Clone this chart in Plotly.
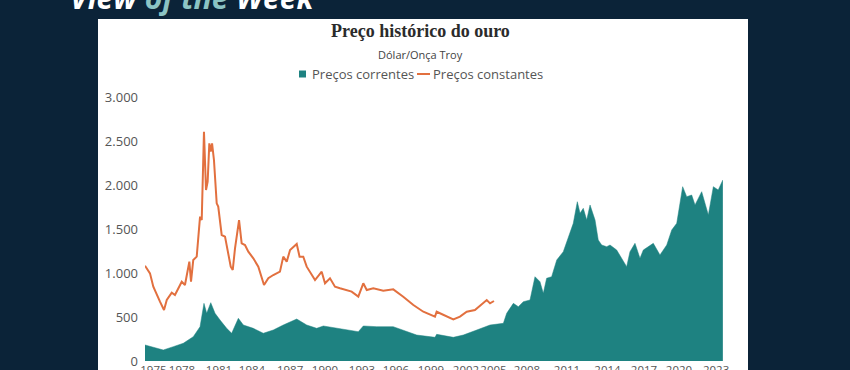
import plotly.graph_objects as go

# ---------------- data ----------------
# Preços correntes (current prices, USD/oz) – position on time axis, value
cur_t = [1975.00, 1975.70, 1976.54, 1977.38, 1978.22, 1979.06, 1979.63, 1979.96,
         1980.19, 1980.53, 1980.89, 1981.31, 1981.87, 1982.29, 1982.85, 1983.27,
         1984.11, 1984.95, 1985.79, 1986.63, 1987.76, 1988.60, 1989.44, 1990.00,
         1991.40, 1992.94, 1993.36, 1994.49, 1995.88, 1996.72, 1997.85, 1999.39,
         1999.53, 2000.93, 2001.77, 2002.90, 2004.02, 2005.14, 2005.42, 2005.98,
         2006.40, 2006.82, 2007.38, 2007.80, 2008.22, 2008.50, 2008.78, 2009.20,
         2009.63, 2010.18, 2010.60, 2011.02, 2011.36, 2011.59, 2011.86, 2012.15,
         2012.43, 2012.85, 2013.12, 2013.41, 2013.83, 2014.11, 2014.67, 2015.09,
         2015.51, 2015.79, 2016.21, 2016.63, 2016.91, 2017.75, 2018.31, 2018.88,
         2019.30, 2019.72, 2020.22, 2020.56, 2020.98, 2021.26, 2021.82, 2022.38,
         2022.80, 2023.21, 2023.60]
cur_v = [182, 155, 125, 163, 201, 276, 390, 655,
         542, 663, 542, 466, 371, 315, 485, 409,
         371, 315, 352, 409, 477, 409, 371, 398,
         371, 333, 398, 390, 390, 352, 295, 269,
         303, 269, 295, 352, 409, 428, 542, 655,
         617, 674, 693, 958, 901, 769, 940, 958,
         1148, 1242, 1394, 1564, 1810, 1678, 1735, 1602,
         1773, 1602, 1375, 1318, 1299, 1318, 1261, 1167,
         1072, 1242, 1337, 1167, 1261, 1337, 1205, 1318,
         1489, 1564, 1981, 1867, 1886, 1773, 1924, 1659,
         1981, 1943, 2057]

# Preços constantes (constant prices, USD/oz)
const_t = [1975.00, 1975.42, 1975.70, 1975.98, 1976.26, 1976.60, 1976.83, 1977.25,
           1977.52, 1978.09, 1978.36, 1978.73, 1978.87, 1979.06, 1979.35, 1979.63,
           1979.77, 1979.96, 1980.13, 1980.27, 1980.41, 1980.53, 1980.64, 1980.80,
           1981.03, 1981.16, 1981.45, 1981.73, 1982.01, 1982.21, 1982.38, 1982.57,
           1982.91, 1983.13, 1983.41, 1983.69, 1984.11, 1984.53, 1985.01, 1985.37,
           1985.79, 1986.35, 1986.63, 1986.92, 1987.20, 1987.76, 1988.00, 1988.31,
           1988.60, 1989.30, 1989.86, 1990.14, 1990.56, 1990.98, 1991.40, 1991.96,
           1992.38, 1992.94, 1993.36, 1993.65, 1994.20, 1995.04, 1995.88, 1996.72,
           1997.57, 1998.41, 1999.39, 1999.53, 2000.09, 2000.93, 2001.49, 2002.06,
           2002.75, 2003.17, 2003.74, 2004.02, 2004.35]
const_v = [1083, 996, 845, 769, 674, 580, 693, 777,
           750, 901, 864, 1129, 901, 1148, 1186, 1640,
           1602, 2606, 1943, 2038, 2473, 2379, 2473, 2284,
           1792, 1754, 1432, 1413, 1224, 1072, 1034, 1280,
           1602, 1337, 1318, 1242, 1167, 1072, 864, 940,
           977, 1015, 1186, 1129, 1261, 1330, 1186, 1186,
           1072, 920, 1015, 883, 940, 845, 826, 807,
           788, 731, 883, 807, 826, 799, 814, 731,
           636, 560, 504, 560, 523, 473, 504, 560,
           580, 625, 693, 655, 682]

# axis labels
x_tick_pos = [1975.71, 1978.11, 1981.22, 1984.00, 1987.20, 1990.14, 1993.25, 1996.11,
              1999.05, 2002.00, 2004.31, 2007.13, 2010.49, 2013.90, 2016.97, 2019.91,
              2023.03]
x_tick_labels = ["1975", "1978", "1981", "1984", "1987", "1990", "1993", "1996",
                 "1999", "2002", "2005", "2008", "2011", "2014", "2017", "2020", "2023"]
y_tick_vals = [0, 500, 1000, 1500, 2000, 2500, 3000]
y_tick_labels = ["0", "500", "1.000", "1.500", "2.000", "2.500", "3.000"]

title_text = "Preço histórico do ouro"
subtitle_text = "Dólar/Onça Troy"
series_names = ["Preços correntes", "Preços constantes"]

# ---------------- styling ----------------
NAVY = "#0b2338"
TEAL = "#1e8281"
ORANGE = "#e2703f"
GREY = "#555555"
SANS = "Open Sans"

W, H = 850, 370
ML, MR, MT, MB = 145, 127, 97, 9
PW, PH = W - ML - MR, H - MT - MB


def px_x(x):
    return (x - ML) / PW


def px_y(y):
    return (H - MB - y) / PH


fig = go.Figure()
fig.add_trace(go.Scatter(
    x=cur_t, y=cur_v, mode="lines", fill="tozeroy",
    line=dict(color=TEAL, width=0.5), fillcolor=TEAL,
    name=series_names[0], showlegend=False, hoverinfo="x+y"))
fig.add_trace(go.Scatter(
    x=const_t, y=const_v, mode="lines",
    line=dict(color=ORANGE, width=2),
    name=series_names[1], showlegend=False, hoverinfo="x+y"))

shapes = [
    # white card
    dict(type="rect", xref="paper", yref="paper", layer="below",
         x0=px_x(98), x1=px_x(748), y0=-0.2, y1=px_y(19),
         fillcolor="white", line=dict(width=0)),
    # legend symbols
    dict(type="rect", xref="paper", yref="paper",
         x0=px_x(299), x1=px_x(306), y0=px_y(77.5), y1=px_y(70.5),
         fillcolor=TEAL, line=dict(width=0)),
    dict(type="line", xref="paper", yref="paper",
         x0=px_x(417), x1=px_x(430), y0=px_y(74), y1=px_y(74),
         line=dict(color=ORANGE, width=2)),
]

annotations = [
    dict(text="<b><i>View <span style='color:#8cc4c4'>of the</span> Week</i></b>",
         xref="paper", yref="paper", x=px_x(68), y=px_y(20), xanchor="left",
         yanchor="bottom", showarrow=False,
         font=dict(family=SANS, size=30, color="white")),
    dict(text="<b>" + title_text + "</b>", xref="paper", yref="paper",
         x=px_x(420), y=px_y(31), xanchor="center", yanchor="middle", showarrow=False,
         font=dict(family="Liberation Serif", size=18, color="#2b2b2b")),
    dict(text=subtitle_text, xref="paper", yref="paper",
         x=px_x(420), y=px_y(54), xanchor="center", yanchor="middle", showarrow=False,
         font=dict(family=SANS, size=11, color="#444444")),
    dict(text=series_names[0], xref="paper", yref="paper",
         x=px_x(310), y=px_y(74), xanchor="left", yanchor="middle", showarrow=False,
         font=dict(family=SANS, size=13, color=GREY)),
    dict(text=series_names[1], xref="paper", yref="paper",
         x=px_x(431), y=px_y(74), xanchor="left", yanchor="middle", showarrow=False,
         font=dict(family=SANS, size=13, color=GREY)),
]

fig.update_layout(
    width=W, height=H,
    margin=dict(l=ML, r=MR, t=MT, b=MB, pad=0, autoexpand=False),
    paper_bgcolor=NAVY, plot_bgcolor="rgba(0,0,0,0)",
    font=dict(family=SANS, size=13, color=GREY),
    showlegend=False,
    shapes=shapes, annotations=annotations,
    xaxis=dict(range=[1975, 1975 + PW / 11.89], showgrid=False, zeroline=False,
               showline=False, ticks="", tickmode="array", tickvals=x_tick_pos,
               ticktext=x_tick_labels, tickfont=dict(size=11.5, color=GREY),
               tickangle=0, automargin=False, fixedrange=True),
    yaxis=dict(range=[0, 3000], showgrid=False, zeroline=False, showline=False,
               ticks="", tickmode="array", tickvals=y_tick_vals,
               ticktext=y_tick_labels, tickfont=dict(size=13, color=GREY),
               ticklabelstandoff=6, automargin=False, fixedrange=True),
)

fig.write_html(
    "out.html",
    config={"displayModeBar": False},
    post_script="document.body.style.margin='0';"
                "document.body.style.background='" + NAVY + "';",
)
